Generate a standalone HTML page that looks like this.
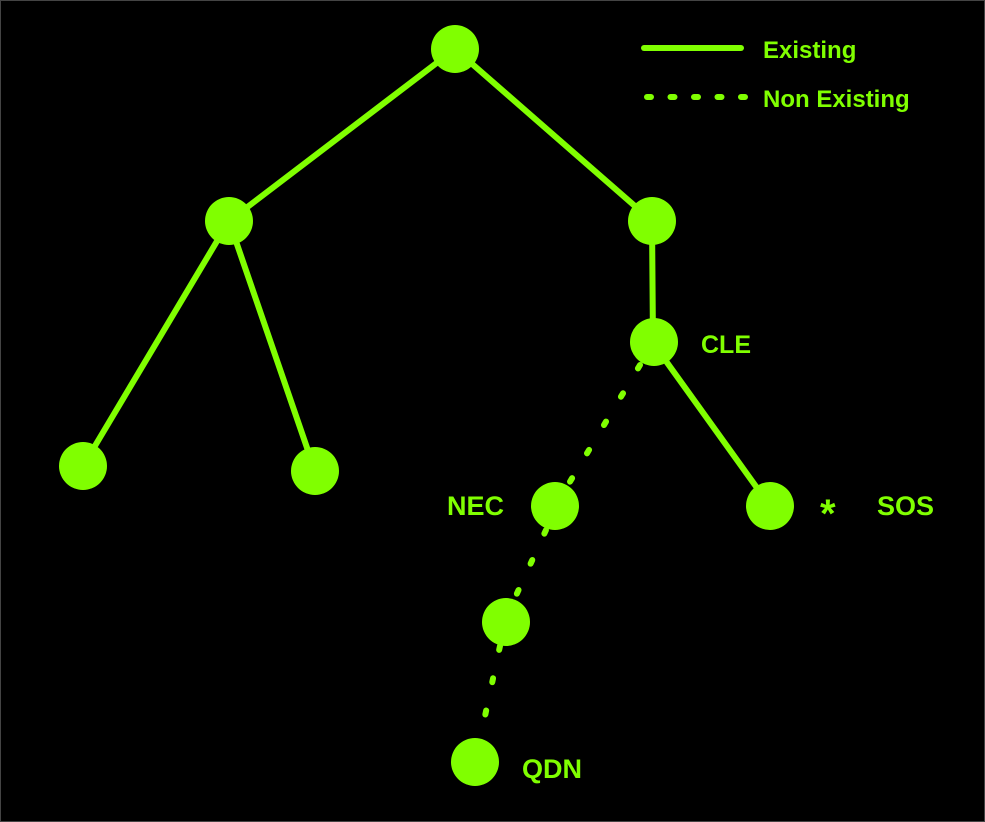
<!DOCTYPE html>
<html><head><style>
html,body{margin:0;padding:0;background:#000;}
svg{display:block;}
text{font-family:"Liberation Sans",sans-serif;font-weight:bold;fill:#80ff00;font-size:24px;}
.l{font-size:27px;}
</style></head><body>
<svg width="985" height="822" viewBox="0 0 985 822">
<rect x="0.5" y="0.5" width="984" height="821" fill="#000" stroke="#444"/>
<g stroke="#80ff00" stroke-width="6" stroke-linecap="round" fill="none">
<line x1="455" y1="49" x2="229" y2="221"/>
<line x1="455" y1="49" x2="652" y2="221"/>
<line x1="229" y1="221" x2="83" y2="466"/>
<line x1="229" y1="221" x2="315" y2="471"/>
<line x1="652" y1="221" x2="653" y2="343"/>
<line x1="653" y1="343" x2="770" y2="506"/>
<line x1="644" y1="48" x2="741" y2="48"/>
</g>
<g stroke="#80ff00" stroke-width="6" stroke-linecap="round" fill="none" stroke-dasharray="4 29">
<line x1="640" y1="365" x2="568" y2="485"/>
<line x1="546" y1="530" x2="514" y2="600"/>
<line x1="500" y1="646" x2="485" y2="716"/>
<line x1="647" y1="97" x2="746" y2="97" stroke-dasharray="4 19.5"/>
</g>
<g fill="#80ff00">
<circle cx="455" cy="49" r="24"/>
<circle cx="229" cy="221" r="24"/>
<circle cx="652" cy="221" r="24"/>
<circle cx="654" cy="342" r="24"/>
<circle cx="83" cy="466" r="24"/>
<circle cx="315" cy="471" r="24"/>
<circle cx="555" cy="506" r="24"/>
<circle cx="770" cy="506" r="24"/>
<circle cx="506" cy="622" r="24"/>
<circle cx="475" cy="762" r="24"/>
</g>
<text x="763" y="58">Existing</text>
<text x="763" y="107">Non Existing</text>
<text x="701" y="353" style="font-size:25px">CLE</text>
<text class="l" x="447" y="515">NEC</text>
<text x="820" y="527" style="font-size:40px">*</text>
<text class="l" x="877" y="515">SOS</text>
<text class="l" x="522" y="778">QDN</text>
</svg>
</body></html>
